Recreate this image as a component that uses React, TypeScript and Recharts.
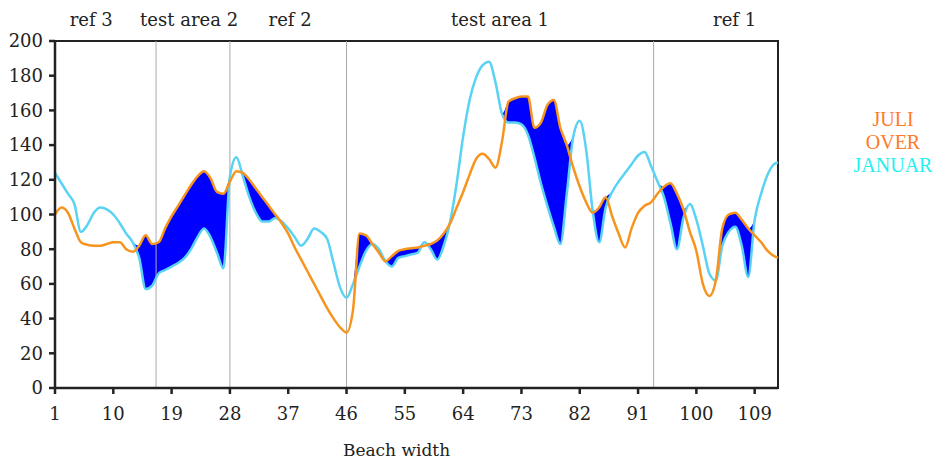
import {
  ComposedChart,
  Line,
  Area,
  XAxis,
  YAxis,
  ReferenceLine,
  ReferenceArea,
} from "recharts";

// position along the beach
const POS = [
  1, 2, 3, 4, 5, 6, 7, 8, 9, 10, 11, 12, 13, 14, 15, 16, 17, 18, 19, 20,
  21, 22, 23, 24, 25, 26, 27, 28, 29, 30, 31, 32, 33, 34, 35, 36, 37, 38, 39, 40,
  41, 42, 43, 44, 45, 46, 47, 48, 49, 50, 51, 52, 53, 54, 55, 56, 57, 58, 59, 60,
  61, 62, 63, 64, 65, 66, 67, 68, 69, 70, 71, 72, 73, 74, 75, 76, 77, 78, 79, 80,
  81, 82, 83, 84, 85, 86, 87, 88, 89, 90, 91, 92, 93, 94, 95, 96, 97, 98, 99, 100,
  101, 102, 103, 104, 105, 106, 107, 108, 109, 110, 111, 112, 112.6,
];

const JANUAR = [
  124, 118, 112, 106, 90, 94, 101, 104, 103, 100, 95, 89, 84, 75, 57, 59, 66, 68, 70, 72,
  75, 80, 87, 92, 87, 78, 69, 122, 133, 122, 110, 101, 96, 96, 98, 96, 92, 87, 82, 86,
  92, 90, 86, 72, 58, 52, 60, 70, 79, 83, 80, 73, 70, 75, 76, 77, 78, 84, 80, 74,
  82, 96, 118, 145, 166, 179, 186, 188, 176, 158, 153, 153, 152, 146, 133, 118, 105, 93, 83, 112,
  145, 154, 137, 102, 84, 104, 113, 119, 124, 129, 134, 136, 128, 119, 110, 95, 80, 98, 106, 97,
  82, 66, 62, 82, 90, 93, 82, 64, 97, 112, 123, 129, 130,
];

const JULI = [
  100, 104, 101, 92, 84, 82.5, 82, 82, 83, 84, 84, 80, 78.5, 82, 88, 83, 84, 92, 99, 105,
  111, 117, 122, 125, 121, 113, 112, 119, 125, 124, 120, 115, 110, 105, 100, 95, 89, 81, 74, 67,
  60, 53, 46, 40, 35, 32, 45, 89, 88, 83, 78, 73, 76, 79, 80, 80.5, 81, 82, 83, 85,
  89, 95, 104, 113, 123, 132, 135, 132, 127, 142, 165, 167, 168, 168, 150, 153, 163, 166, 150, 140,
  127, 116, 107, 101, 104, 110, 99, 89, 81, 92, 101, 105, 107, 112, 116, 118, 112, 103, 90, 79,
  60, 53, 62, 92, 100, 101, 97, 92, 88, 84, 79, 76, 75,
];

const X_TICKS = [1, 10, 19, 28, 37, 46, 55, 64, 73, 82, 91, 100, 109];
const Y_TICKS = [0, 20, 40, 60, 80, 100, 120, 140, 160, 180, 200];
const SECTION_LINES = [16.6, 28, 46, 93.4];
const SECTION_CENTERS = [6.6, 21.7, 37.3, 69.7, 105.9];
const SECTION_NAMES = ["ref 3", "test area 2", "ref 2", "test area 1", "ref 1"];

const data = POS.map((x, i) => ({
  x,
  jan: JANUAR[i],
  jul: JULI[i],
  over: [JANUAR[i], Math.max(JANUAR[i], JULI[i])],
}));

const serif = "DejaVu Serif";
const tickStyle = { fontFamily: serif, fontSize: 18, fill: "#222" };

export default function App() {
  return (
    <div style={{ position: "absolute", left: 0, top: 0, width: 937, height: 466, background: "#fff" }}>
      <ComposedChart
        width={937}
        height={466}
        data={data}
        margin={{ top: 11, right: 159, bottom: 8, left: 10 }}
      >
        <XAxis
          dataKey="x"
          type="number"
          domain={[1, 112.6]}
          ticks={X_TICKS}
          height={70}
          stroke="#222"
          strokeWidth={2.5}
          tickSize={6}
          tickMargin={13}
          tick={tickStyle}
          label={{
            value: "Beach width",
            position: "insideBottom",
            offset: 2,
            dx: -20,
            style: { fontFamily: serif, fontSize: 17, fill: "#222" },
          }}
        />
        <XAxis
          xAxisId="top"
          dataKey="x"
          type="number"
          orientation="top"
          domain={[1, 112.6]}
          ticks={SECTION_CENTERS}
          tickFormatter={(v) => SECTION_NAMES[SECTION_CENTERS.indexOf(v)]}
          height={30}
          axisLine={false}
          tickLine={false}
          tickSize={0}
          tickMargin={15}
          tick={tickStyle}
          interval={0}
        />
        <YAxis
          domain={[0, 200]}
          ticks={Y_TICKS}
          width={45}
          stroke="#222"
          strokeWidth={2.5}
          tickSize={6}
          tickMargin={6}
          tick={tickStyle}
          interval={0}
        />
        {SECTION_LINES.map((v) => (
          <ReferenceLine key={v} x={v} stroke="#aaa" strokeWidth={1} />
        ))}
        <Area
          type="monotone"
          dataKey="over"
          fill="#0000ff"
          fillOpacity={1}
          stroke="none"
          isAnimationActive={false}
        />
        <Line
          type="monotone"
          dataKey="jan"
          stroke="#5ad2f4"
          strokeWidth={2.5}
          dot={false}
          isAnimationActive={false}
        />
        <Line
          type="monotone"
          dataKey="jul"
          stroke="#f7941d"
          strokeWidth={2.5}
          dot={false}
          isAnimationActive={false}
        />
        <ReferenceArea
          x1={1}
          x2={112.6}
          y1={0}
          y2={200}
          fill="none"
          stroke="#222"
          strokeWidth={2}
        />
      </ComposedChart>
      <div
        style={{
          position: "absolute",
          left: 843,
          top: 108,
          width: 100,
          textAlign: "center",
          fontFamily: "Liberation Serif",
          fontSize: 20,
          lineHeight: "23px",
        }}
      >
        <div style={{ color: "#ff7a2a" }}>JULI</div>
        <div style={{ color: "#ff7a2a" }}>OVER</div>
        <div style={{ color: "#1ff0f0" }}>JANUAR</div>
      </div>
    </div>
  );
}
